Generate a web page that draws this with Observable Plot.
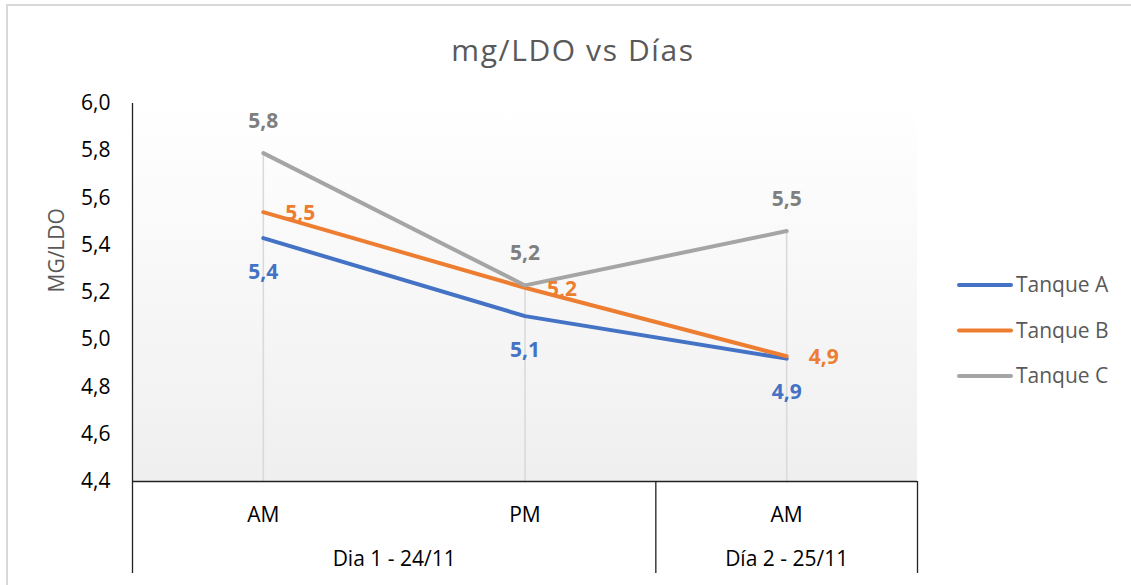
<!DOCTYPE html>
<html>
<head>
<meta charset="utf-8">
<script src="https://cdn.jsdelivr.net/npm/d3@7"></script>
<script src="https://cdn.jsdelivr.net/npm/@observablehq/plot@0.6"></script>
<style>
  html, body { margin: 0; padding: 0; background: #fff; }
  #chart { width: 1131px; height: 585px; overflow: hidden; }
</style>
</head>
<body>
<div id="chart"></div>
<script>
// ---- data ----
const categories = ["AM", "PM", "AM"];
const groups = ["Dia 1 - 24/11", "Día 2 - 25/11"];
const groupSpans = [[0, 1], [2, 2]];
const seriesNames = ["Tanque A", "Tanque B", "Tanque C"];
const tanqueA = [5.43, 5.10, 4.92];
const tanqueB = [5.54, 5.22, 4.93];
const tanqueC = [5.79, 5.23, 5.46];
const yTicks = [4.4, 4.6, 4.8, 5.0, 5.2, 5.4, 5.6, 5.8, 6.0];
const colors = ["#4472C4", "#ED7D31", "#A5A5A5"];
const labelColors = ["#4472C4", "#ED7D31", "#7F7F7F"];
const title = "mg/LDO vs Días";
const yTitle = "MG/LDO";

const allSeries = [tanqueA, tanqueB, tanqueC];
const rows = [];
allSeries.forEach((vals, s) => vals.forEach((v, i) => rows.push({i, series: seriesNames[s], value: v})));
const comma = v => v.toFixed(1).replace(".", ",");
const drops = categories.map((c, i) => ({i, top: d3.max(allSeries, s => s[i])}));
const catRows = categories.map((c, i) => ({i, label: c}));
const groupRows = groups.map((g, k) => ({x: (groupSpans[k][0] + groupSpans[k][1]) / 2, label: g}));
const separators = [-0.5, 1.5, 2.5];

const W = 1131, H = 585;
const mL = 132, mR = 214, mT = 103, mB = 104;
const font = "Open Sans";
const fs = 21;

const plot = Plot.plot({
  width: W, height: H,
  marginLeft: mL, marginRight: mR, marginTop: mT, marginBottom: mB,
  style: {fontFamily: font, fontSize: fs + "px", color: "#000", background: "transparent", overflow: "visible"},
  x: {type: "linear", domain: [-0.5, 2.5], axis: null},
  y: {domain: [4.4, 6.0], ticks: yTicks, tickFormat: comma, tickSize: 0, tickPadding: 22, label: null, axis: "left"},
  color: {domain: seriesNames, range: colors},
  marks: [
    // drop lines
    Plot.ruleX(drops, {x: "i", y1: 4.4, y2: "top", stroke: "#d9d9d9", strokeWidth: 1.5}),
    // axis line (bottom)
    Plot.ruleY([4.4], {stroke: "#222", strokeWidth: 1.3}),
    // left axis line + category separators
    Plot.ruleX([separators[0]], {stroke: "#222", strokeWidth: 1.3, insetBottom: -92}),
    Plot.ruleX(separators.slice(1), {stroke: "#222", strokeWidth: 1.3, insetTop: H - mT - mB, insetBottom: -92}),
    // lines
    Plot.line(rows, {x: "i", y: "value", z: "series", stroke: "series", strokeWidth: 4, strokeLinecap: "round", strokeLinejoin: "round"}),
    // data labels
    Plot.text(rows.filter(d => d.series === "Tanque A"), {x: "i", y: "value", text: d => comma(d.value), dy: 34, fill: labelColors[0], fontWeight: "bold", fontSize: fs}),
    Plot.text(rows.filter(d => d.series === "Tanque B"), {x: "i", y: "value", text: d => comma(d.value), dx: 22, dy: 1, textAnchor: "start", fill: labelColors[1], fontWeight: "bold", fontSize: fs}),
    Plot.text(rows.filter(d => d.series === "Tanque C"), {x: "i", y: "value", text: d => comma(d.value), dy: -32, fill: labelColors[2], fontWeight: "bold", fontSize: fs}),
    // category labels
    Plot.text(catRows, {x: "i", text: "label", frameAnchor: "bottom", dy: 40, fill: "#000", fontSize: fs}),
    Plot.text(groupRows, {x: "x", text: "label", frameAnchor: "bottom", dy: 84, fill: "#000", fontSize: fs}),
    // y title
    Plot.text([yTitle], {frameAnchor: "left", dx: -75, rotate: -90, fill: "#595959", fontSize: fs}),
    // chart title
    Plot.text([title], {frameAnchor: "top", dx: 48, dy: -64, fill: "#595959", fontSize: 30})
  ]
});

const svg = d3.select(plot);
// title letter spacing
svg.selectAll("text").filter(function() { return this.textContent === title; })
  .style("letter-spacing", "1.6px");
// gradient background for plot area
const defs = svg.insert("defs", ":first-child");
const grad = defs.append("linearGradient").attr("id", "bgGrad").attr("x1", 0).attr("y1", 0).attr("x2", 0).attr("y2", 1);
grad.append("stop").attr("offset", "0%").attr("stop-color", "#ffffff");
grad.append("stop").attr("offset", "100%").attr("stop-color", "#efefef");
svg.insert("rect", "defs + *")
  .attr("x", mL).attr("y", mT).attr("width", W - mL - mR).attr("height", H - mT - mB)
  .attr("fill", "url(#bgGrad)");
// outer chart border
svg.append("rect").attr("x", 7).attr("y", 5).attr("width", W + 10).attr("height", H + 10)
  .attr("fill", "none").attr("stroke", "#d9d9d9").attr("stroke-width", 2);
// legend
const leg = svg.append("g").attr("text-anchor", "start");
seriesNames.forEach((name, k) => {
  const ly = 285 + k * 45.5;
  leg.append("line").attr("x1", 959).attr("x2", 1011).attr("y1", ly).attr("y2", ly)
    .attr("stroke", colors[k]).attr("stroke-width", 4).attr("stroke-linecap", "round");
  leg.append("text").attr("x", 1016).attr("y", ly).attr("dy", "0.35em")
    .attr("text-anchor", "start")
    .attr("fill", "#595959").attr("font-size", fs).attr("font-family", font).text(name);
});

document.getElementById("chart").appendChild(plot);
</script>
</body>
</html>
